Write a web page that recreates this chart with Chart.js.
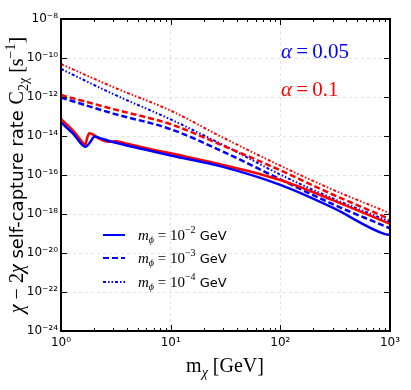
<!DOCTYPE html>
<html>
<head>
<meta charset="utf-8">
<script src="https://cdn.jsdelivr.net/npm/chart.js@4.4.0/dist/chart.umd.min.js"></script>
<style>
  html, body { margin: 0; padding: 0; background: #fff; }
</style>
</head>
<body>
<canvas id="myChart" width="411" height="390"></canvas>
<script>
// dark matter mass [GeV]
const massSolidRed = [1, 1.3, 1.6, 1.66, 1.73, 1.81, 1.95, 2.2, 2.7, 3.2, 4, 5.25, 10, 30, 100, 300, 1000];
const massSolidBlue = [1, 1.3, 1.68, 1.8, 2.04, 2.3, 3.1, 5.25, 10, 30, 100, 300, 900, 1000];
const massGrid = [1, 3, 10, 30, 100, 300, 1000];

// self-capture rate [1/s], m_phi = 1e-2 GeV
const rateSolidRed = [7.6e-14, 1.78e-14, 4.2e-15, 3.47e-15, 7.9e-15, 1.38e-14, 1.2e-14, 7.6e-15, 5.0e-15, 5.4e-15, 4.0e-15, 2.8e-15, 1.29e-15, 3.3e-16, 5.5e-17, 5.2e-18, 3.1e-19];
const rateSolidBlue = [5.0e-14, 1.26e-14, 2.8e-15, 4.0e-15, 9.3e-15, 7.6e-15, 4.6e-15, 2.3e-15, 1.0e-15, 2.6e-16, 3.1e-17, 2.1e-18, 9.3e-20, 8.5e-20];
// m_phi = 1e-3 GeV
const rateDashedRed = [1.26e-12, 2.4e-13, 4.0e-14, 3.2e-15, 1.74e-16, 1.0e-17, 5.5e-19];
const rateDashedBlue = [9.3e-13, 1.41e-13, 2.24e-14, 1.58e-15, 6.0e-17, 3.2e-18, 1.86e-19];
// m_phi = 1e-4 GeV
const rateDotRed = [4.9e-11, 3.2e-12, 2.0e-13, 8.3e-15, 3.0e-16, 1.78e-17, 1.1e-18];
const rateDotBlue = [2.75e-11, 1.41e-12, 7.1e-14, 3.5e-15, 1.05e-16, 6.3e-18, 4.1e-19];

const xTicks = [1, 10, 100, 1000];
const yTicks = [1e-24, 1e-22, 1e-20, 1e-18, 1e-16, 1e-14, 1e-12, 1e-10, 1e-8];
const legendLabels = ["−2", "−3", "−4"];

const BLUE = "#0000ff";
const RED = "#ff0000";
const DASH = [6, 3];
const DASHDOT = [3, 2, 1.5, 2, 1.5, 2];

const toPoints = (xs, ys) => xs.map((x, i) => ({ x: x, y: ys[i] }));
const sup = (s) => s.replace(/[-0-9]/g, (c) => "⁻⁰¹²³⁴⁵⁶⁷⁸⁹"["-0123456789".indexOf(c)]);
const powLabel = (v) => "10" + sup(String(Math.round(Math.log10(v))));

const line = (data, color, dash, width) => ({
  data: data,
  borderColor: color,
  borderWidth: width,
  borderDash: dash,
  pointRadius: 0,
  fill: false,
  cubicInterpolationMode: "monotone",
});

// draw a run of text pieces: [text, font, dy]
const drawRun = (ctx, x, y, parts, align) => {
  let total = 0;
  parts.forEach((p) => { ctx.font = p[1]; total += ctx.measureText(p[0]).width; });
  let cx = align === "center" ? x - total / 2 : x;
  parts.forEach((p) => {
    ctx.font = p[1];
    ctx.fillText(p[0], cx, y + (p[2] || 0));
    cx += ctx.measureText(p[0]).width;
  });
};

const decorations = {
  id: "decorations",
  afterDraw(chart) {
    const ctx = chart.ctx;
    const a = chart.chartArea;
    const xs = chart.scales.x;
    const ys = chart.scales.y;
    ctx.save();
    // tick marks, pointing inward
    ctx.strokeStyle = "#000";
    ctx.lineWidth = 1;
    ctx.beginPath();
    for (let d = 1; d < 1000; d *= 10) {
      for (let m = 1; m <= 10; m++) {
        const px = Math.round(xs.getPixelForValue(d * m)) + 0.5;
        const len = m === 1 || m === 10 ? 6 : 3;
        ctx.moveTo(px, a.bottom); ctx.lineTo(px, a.bottom - len);
        ctx.moveTo(px, a.top); ctx.lineTo(px, a.top + len);
      }
    }
    yTicks.forEach((v) => {
      const py = Math.round(ys.getPixelForValue(v)) + 0.5;
      ctx.moveTo(a.left, py); ctx.lineTo(a.left + 6, py);
      ctx.moveTo(a.right, py); ctx.lineTo(a.right - 6, py);
    });
    ctx.stroke();
    // frame
    ctx.lineWidth = 2;
    ctx.strokeRect(a.left, a.top, a.right - a.left, a.bottom - a.top);

    ctx.textBaseline = "alphabetic";
    ctx.textAlign = "left";
    // alpha labels
    const aFont = "21px 'Liberation Serif'";
    ctx.fillStyle = BLUE;
    drawRun(ctx, 281, 58, [["α", "italic " + aFont], ["\u2009=\u2009", aFont], ["0.05", aFont]]);
    ctx.fillStyle = RED;
    drawRun(ctx, 281, 96, [["α", "italic " + aFont], ["\u2009=\u2009", aFont], ["0.1", aFont]]);

    // legend
    const rows = [235, 258, 282];
    const dashes = [[], DASH, DASHDOT];
    rows.forEach((ry, i) => {
      ctx.strokeStyle = BLUE;
      ctx.lineWidth = 2;
      ctx.setLineDash(dashes[i]);
      ctx.beginPath();
      ctx.moveTo(103, ry); ctx.lineTo(125, ry);
      ctx.stroke();
      ctx.setLineDash([]);
      ctx.fillStyle = "#000";
      drawRun(ctx, 138, ry + 5, [
        ["m", "italic 15px 'Liberation Serif'"],
        ["ϕ", "italic 10px 'Liberation Serif'", 3],
        [" = 10", "15px 'Liberation Serif'"],
        [legendLabels[i], "10px 'Liberation Serif'", -7],
        [" GeV", "13px 'DejaVu Sans'"],
      ]);
    });

    // axis titles
    ctx.fillStyle = "#000";
    drawRun(ctx, 225, 372, [
      ["m", "20px 'Liberation Serif'"],
      ["χ", "italic 14px 'Liberation Serif'", 5],
      [" [GeV]", "20px 'Liberation Serif'"],
    ], "center");
    ctx.translate(23, (a.top + a.bottom) / 2);
    ctx.rotate(-Math.PI / 2);
    drawRun(ctx, 0, 0, [
      ["χ", "italic 20px 'Liberation Serif'"],
      [" − 2", "20px 'Liberation Serif'"],
      ["χ", "italic 20px 'Liberation Serif'"],
      [" self-capture rate ", "18px 'DejaVu Sans'"],
      ["C", "20px 'Liberation Serif'"],
      ["2χ", "14px 'Liberation Serif'", 5],
      [" [s", "20px 'Liberation Serif'"],
      ["−1", "14px 'Liberation Serif'", -8],
      ["]", "20px 'Liberation Serif'"],
    ], "center");
    ctx.restore();
  },
};

const ctx = document.getElementById("myChart").getContext("2d");
const config = {
  type: "line",
  data: {
    datasets: [
      line(toPoints(massSolidBlue, rateSolidBlue), BLUE, [], 2.5),
      line(toPoints(massSolidRed, rateSolidRed), RED, [], 2.5),
      line(toPoints(massGrid, rateDashedBlue), BLUE, DASH, 2.5),
      line(toPoints(massGrid, rateDashedRed), RED, DASH, 2.5),
      line(toPoints(massGrid, rateDotBlue), BLUE, DASHDOT, 2),
      line(toPoints(massGrid, rateDotRed), RED, DASHDOT, 2),
    ],
  },
  options: {
    responsive: false,
    animation: false,
    devicePixelRatio: 1,
    layout: { padding: { top: 19, right: 21, left: 0, bottom: 0 } },
    plugins: { legend: { display: false }, tooltip: { enabled: false } },
    scales: {
      x: {
        type: "logarithmic",
        min: 1,
        max: 1000,
        afterBuildTicks: (scale) => { scale.ticks = xTicks.map((v) => ({ value: v })); },
        afterFit: (scale) => { scale.height = 59; },
        ticks: {
          callback: (v) => powLabel(v),
          color: "#000",
          font: { family: "DejaVu Sans", size: 12 },
          padding: 5,
          maxRotation: 0,
          autoSkip: false,
        },
        grid: { color: "#e4e4e4", drawTicks: false, lineWidth: 1 },
        border: { display: false, dash: [3, 3] },
      },
      y: {
        type: "logarithmic",
        min: 1e-24,
        max: 1e-8,
        afterBuildTicks: (scale) => { scale.ticks = yTicks.map((v) => ({ value: v })); },
        afterFit: (scale) => { scale.width = 61; },
        ticks: {
          callback: (v) => powLabel(v),
          color: "#000",
          font: { family: "DejaVu Sans", size: 12 },
          padding: 3,
          autoSkip: false,
        },
        grid: { color: "#e4e4e4", drawTicks: false, lineWidth: 1 },
        border: { display: false, dash: [3, 3] },
      },
    },
  },
  plugins: [decorations],
};
const myChart = new Chart(ctx, config);
</script>
</body>
</html>
